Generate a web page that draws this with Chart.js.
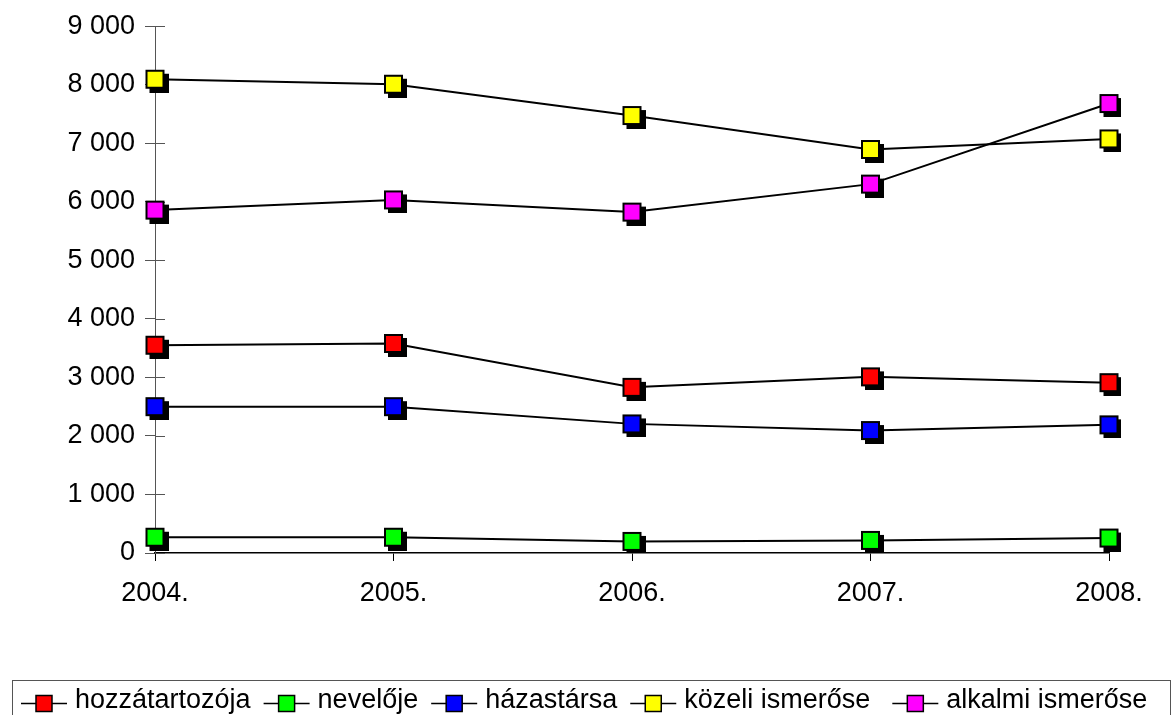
<!DOCTYPE html>
<html>
<head>
<meta charset="utf-8">
<script src="https://cdn.jsdelivr.net/npm/chart.js@4/dist/chart.umd.min.js"></script>
<style>
  html, body { margin: 0; padding: 0; background: #fff; }
  #wrap { width: 1176px; height: 715px; position: relative; }
</style>
</head>
<body>
<div id="wrap"><canvas id="c" width="1176" height="715"></canvas></div>
<script>
const categories = ['2004.', '2005.', '2006.', '2007.', '2008.'];
const seriesNames = ['hozzátartozója', 'nevelője', 'házastársa', 'közeli ismerőse', 'alkalmi ismerőse'];
const hozzatartozoja = [3550, 3580, 2830, 3010, 2910];
const nevelője = [270, 270, 198, 215, 256];
const hazastarsa = [2500, 2500, 2206, 2092, 2189];
const kozeliIsmerose = [8094, 8009, 7474, 6894, 7075];
const alkalmiIsmerose = [5858, 6032, 5824, 6302, 7679];
const seriesColors = ['#ff0000', '#00ff00', '#0000ff', '#ffff00', '#ff00ff'];
const yTicks = [0, 1000, 2000, 3000, 4000, 5000, 6000, 7000, 8000, 9000];

const FONT = "'Liberation Sans', Arial, sans-serif";

function makeMarker(color) {
  const c = document.createElement('canvas');
  c.width = 27; c.height = 27;
  const g = c.getContext('2d');
  g.fillStyle = '#000';
  g.fillRect(8, 8, 19, 19);
  g.fillStyle = color;
  g.fillRect(4, 4, 19, 19);
  g.strokeStyle = '#000';
  g.lineWidth = 2;
  g.strokeRect(5, 5, 17, 17);
  return c;
}

const values = [hozzatartozoja, nevelője, hazastarsa, kozeliIsmerose, alkalmiIsmerose];
const datasets = values.map((v, i) => ({
  label: seriesNames[i],
  data: v,
  borderColor: '#000',
  borderWidth: 2,
  backgroundColor: seriesColors[i],
  pointStyle: makeMarker(seriesColors[i]),
  pointRadius: 10,
  tension: 0,
  fill: false
}));

const fmt = v => String(v).replace(/\B(?=(\d{3})+(?!\d))/g, '\u00a0');

const extras = {
  id: 'extras',
  beforeDatasetsDraw(chart) {
    const ctx = chart.ctx;
    const y = chart.scales.y;
    const left = chart.chartArea.left;
    ctx.save();
    ctx.strokeStyle = '#555';
    ctx.lineWidth = 1;
    yTicks.forEach(t => {
      const py = Math.round(y.getPixelForValue(t)) + 0.5;
      ctx.beginPath();
      ctx.moveTo(left, py);
      ctx.lineTo(left + 10, py);
      ctx.stroke();
    });
    ctx.restore();
  },
  afterDraw(chart) {
    const ctx = chart.ctx;
    ctx.save();
    // legend box
    ctx.strokeStyle = '#555';
    ctx.lineWidth = 1;
    ctx.strokeRect(12.5, 680.5, 1158, 60);
    ctx.font = '27px ' + FONT;
    ctx.textBaseline = 'alphabetic';
    ctx.fillStyle = '#000';
    let x = 21;
    const ly = 703.5;
    seriesNames.forEach((name, i) => {
      ctx.strokeStyle = '#000';
      ctx.lineWidth = 1.5;
      ctx.beginPath();
      ctx.moveTo(x, ly);
      ctx.lineTo(x + 46, ly);
      ctx.stroke();
      ctx.fillStyle = seriesColors[i];
      ctx.fillRect(x + 15, ly - 8, 16, 16);
      ctx.strokeStyle = '#000';
      ctx.lineWidth = 1.5;
      ctx.strokeRect(x + 15, ly - 8, 16, 16);
      ctx.fillStyle = '#000';
      ctx.fillText(name, x + 54, 708);
      const w = ctx.measureText(name).width;
      x = x + 54 + w + (i === 3 ? 22 : 13);
    });
    ctx.restore();
  }
};

new Chart(document.getElementById('c'), {
  type: 'line',
  data: { labels: categories, datasets },
  options: {
    responsive: false,
    animation: false,
    devicePixelRatio: 1,
    layout: { padding: { left: 0, right: 67, top: 26, bottom: 0 } },
    plugins: { legend: { display: false }, tooltip: { enabled: false } },
    scales: {
      x: {
        offset: false,
        grid: { drawOnChartArea: false, drawTicks: true, tickLength: 8, color: '#000' },
        border: { color: '#000', width: 1.5 },
        ticks: { font: { family: FONT, size: 27 }, color: '#000', padding: 16, maxRotation: 0 },
        afterFit(s) { s.height = 162; }
      },
      y: {
        min: 0, max: 9000,
        afterBuildTicks(s) { s.ticks = yTicks.map(v => ({ value: v })); },
        grid: { drawOnChartArea: false, drawTicks: true, tickLength: 10, color: '#555' },
        border: { color: '#555', width: 1 },
        ticks: { font: { family: FONT, size: 27 }, color: '#000', padding: 10, callback: v => fmt(v) },
        afterFit(s) { s.width = 155; }
      }
    }
  },
  plugins: [extras]
});
</script>
</body>
</html>
